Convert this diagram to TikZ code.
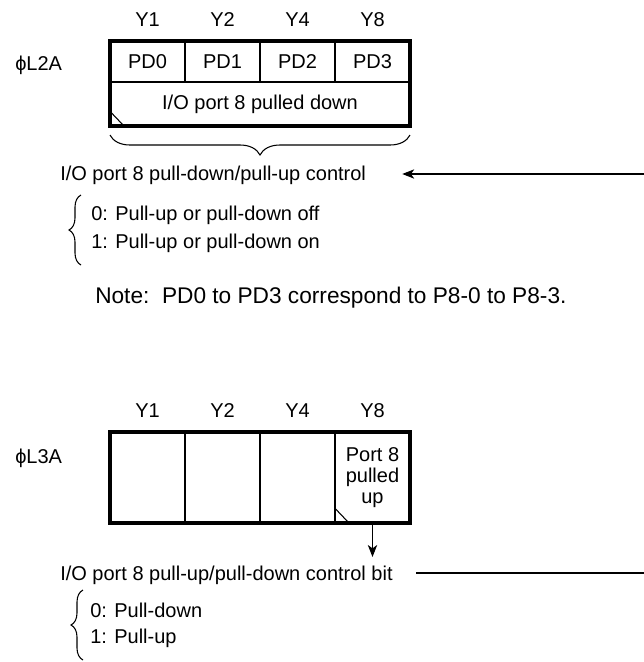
\documentclass[tikz,border=0pt]{standalone}
\usepackage{fontspec}
\setmainfont{Liberation Sans}
\usetikzlibrary{decorations.pathreplacing,arrows.meta}
\begin{document}
\begin{tikzpicture}[x=0.75pt,y=-0.75pt,font=\fontsize{15}{15.75}\selectfont]
\tikzset{cell/.style={draw,line width=0.8pt,minimum width=56.25pt,inner sep=0pt,outer sep=0pt},
 frame/.style={draw,line width=3pt,minimum width=225pt,inner sep=0pt,outer sep=0pt},
 lbl/.style={anchor=west,inner sep=0pt},
 thin/.style={line width=0.8pt},
 arr/.style={line width=0.8pt,-{Stealth[length=9pt,width=7pt,inset=2.5pt]}},
 brc/.style={line width=0.8pt,decorate}}
\useasboundingbox (0,0) rectangle (644,662);
% upper register
\node[lbl] (nameA) at (15,65) {ϕL2A};
\node (ya1) at (147.5,20) {Y1};
\node (ya2) at (222.5,20) {Y2};
\node (ya4) at (297.5,20) {Y4};
\node (ya8) at (372.5,20) {Y8};
\node[cell,minimum height=30.75pt] (pd0) at (147.5,61.5) {PD0};
\node[cell,minimum height=30.75pt] (pd1) at (222.5,61.5) {PD1};
\node[cell,minimum height=30.75pt] (pd2) at (297.5,61.5) {PD2};
\node[cell,minimum height=30.75pt] (pd3) at (372.5,61.5) {PD3};
\node[cell,minimum width=225pt,minimum height=33pt] (pdn) at (260,104) {I/O port 8 pulled down};
\node[frame,minimum height=63.75pt] (regA) at (260,83.5) {};
\draw[thin] ([yshift=11pt]pdn.south west) -- ([xshift=10.5pt]pdn.south west);
\draw[brc,decoration={brace,mirror,amplitude=15pt}] ([yshift=-6.75pt]regA.south west) -- ([yshift=-6.75pt]regA.south east);
\node[lbl] (ctlA) at (60,175) {I/O port 8 pull-down/pull-up control};
\coordinate (inA) at (644,174);
\draw[arr] (inA) -- ([xshift=27pt,yshift=0.75pt]ctlA.east);
\node[lbl] (offA) at (91,215) {0: Pull-up or pull-down off};
\node[lbl] (onA) at (91,243) {1: Pull-up or pull-down on};
\draw[brc,decoration={brace,amplitude=9pt}] (81,265) -- (81,195);
\node[lbl,font=\fontsize{17}{20}\selectfont] (note) at (95,298) {Note:\ \ PD0 to PD3 correspond to P8-0 to P8-3.};
% lower register
\node[lbl] (nameB) at (15,458) {ϕL3A};
\node (yb1) at (147.5,411) {Y1};
\node (yb2) at (222.5,411) {Y2};
\node (yb4) at (297.5,411) {Y4};
\node (yb8) at (372.5,411) {Y8};
\node[cell,minimum height=68.25pt] (pb0) at (147.5,477.5) {};
\node[cell,minimum height=68.25pt] (pb1) at (222.5,477.5) {};
\node[cell,minimum height=68.25pt] (pb2) at (297.5,477.5) {};
\node[cell,minimum height=68.25pt,align=center] (pb3) at (372.5,477.5) {Port 8\\pulled\\up};
\node[frame,minimum height=68.25pt] (regB) at (260,477.5) {};
\draw[thin] ([yshift=11pt]pb3.south west) -- ([xshift=10.5pt]pb3.south west);
\coordinate (outB) at (372.5,557);
\draw[arr] (pb3.south) -- (outB);
\node[lbl] (ctlB) at (60,575) {I/O port 8 pull-up/pull-down control bit};
\coordinate (inB) at (644,573);
\draw[thin] (inB) -- ([xshift=17pt,yshift=1.5pt]ctlB.east);
\node[lbl] (downB) at (90,610) {0: Pull-down};
\node[lbl] (upB) at (90,638) {1: Pull-up};
\draw[brc,decoration={brace,amplitude=9pt}] (83,660) -- (83,590);
\end{tikzpicture}
\end{document}
